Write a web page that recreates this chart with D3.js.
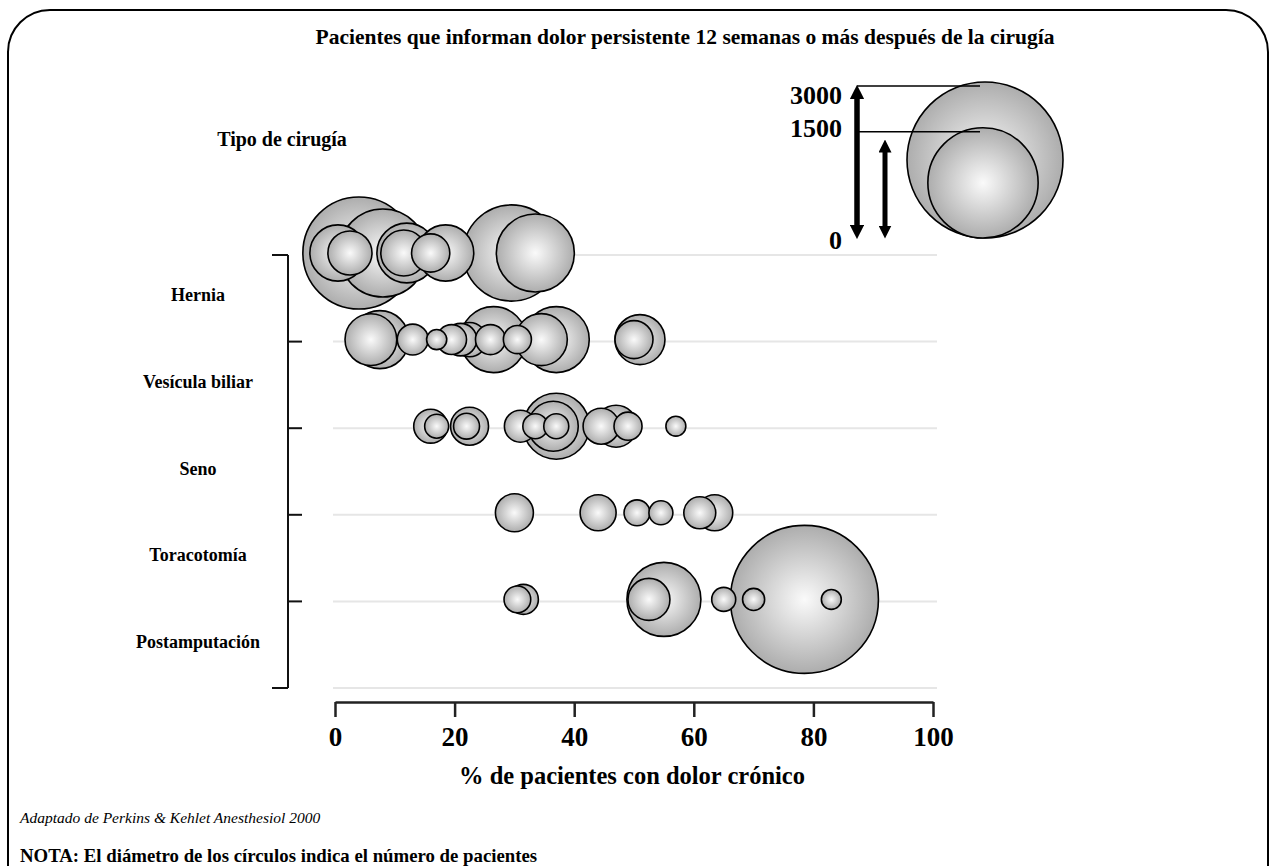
<!DOCTYPE html>
<html>
<head>
<meta charset="utf-8">
<script src="https://cdn.jsdelivr.net/npm/d3@7"></script>
<style>
  body { margin: 0; background: #fff; }
  text { font-family: "Liberation Serif", "Times New Roman", serif; }
</style>
</head>
<body>
<svg id="drawing_region"></svg>
<script>
// categories (rows, top to bottom)
const categories = ["Hernia", "Vesícula biliar", "Seno", "Toracotomía", "Postamputación"];

// each study: % with chronic pain, and number of patients
const hernia_pct = [4, 8, 0.5, 2.5, 12, 11.5, 18.5, 16, 29.5, 33.5];
const hernia_n   = [1550, 955, 390, 240, 440, 260, 390, 180, 1140, 750];

const vesicula_pct = [7.5, 6, 13, 17, 19.5, 21, 22.5, 26.5, 26, 30.5, 37, 34.5, 51, 50];
const vesicula_n   = [415, 330, 118, 50, 110, 130, 145, 537, 111, 97, 537, 333, 308, 178];

const seno_pct = [16, 17, 22.5, 22, 31, 37, 36.5, 33.5, 37, 44.5, 47, 49, 57];
const seno_n   = [142, 71, 178, 83, 126, 537, 308, 77, 77, 160, 217, 97, 49];

const toraco_pct = [30, 44, 50.5, 54.5, 63.5, 61];
const toraco_n   = [178, 160, 83, 71, 160, 126];

const postamp_pct = [31.5, 30.5, 55, 52.5, 65, 70, 78.5, 83];
const postamp_n   = [111, 88, 675, 217, 71, 60, 2700, 49];

const x_ticks = [0, 20, 40, 60, 80, 100];
const legend_values = [3000, 1500];

const data = [];
[[hernia_pct, hernia_n], [vesicula_pct, vesicula_n], [seno_pct, seno_n],
 [toraco_pct, toraco_n], [postamp_pct, postamp_n]].forEach((pair, i) => {
    pair[0].forEach((p, j) => data.push({ row: i, pct: p, n: pair[1][j] }));
});

class BubbleChart {

    constructor( config, data ) {
        this.config = config;
        this.data = data;
        this.init();
    }

    init() {
        let self = this;

        self.svg = d3.select( self.config.parent )
            .attr('width', self.config.width)
            .attr('height', self.config.height);

        // frame with rounded corners
        self.svg.append('rect')
            .attr('x', 8).attr('y', 10)
            .attr('width', 1260).attr('height', 920)
            .attr('rx', 42).attr('ry', 42)
            .attr('fill', 'none')
            .attr('stroke', '#000')
            .attr('stroke-width', 2);

        const defs = self.svg.append('defs');
        const grad = defs.append('radialGradient')
            .attr('id', 'bubble')
            .attr('cx', '50%').attr('cy', '50%').attr('r', '50%');
        grad.append('stop').attr('offset', '0%').attr('stop-color', '#fafafa');
        grad.append('stop').attr('offset', '100%').attr('stop-color', '#adadad');

        defs.append('marker')
            .attr('id', 'arrow')
            .attr('viewBox', '0 0 10 10')
            .attr('refX', 5).attr('refY', 5)
            .attr('markerWidth', 2.6).attr('markerHeight', 2.6)
            .attr('orient', 'auto-start-reverse')
            .append('path')
            .attr('d', 'M0,0 L10,5 L0,10 z')
            .attr('fill', '#000');

        self.xscale = d3.scaleLinear()
            .domain([0, 100])
            .range([335, 933]);

        self.yscale = d3.scaleLinear()
            .domain([0, categories.length])
            .range([255, 688]);

        self.rscale = d3.scaleSqrt()
            .domain([0, 3000])
            .range([0, 78]);

        self.xaxis = d3.axisBottom( self.xscale )
            .tickValues(x_ticks)
            .tickSize(15)
            .tickSizeOuter(0);
    }

    render() {
        let self = this;
        const rows = d3.range(categories.length + 1);

        // Title
        self.svg.append('text')
            .attr('x', 685).attr('y', 44)
            .attr('text-anchor', 'middle')
            .style('font-size', '21.5px').style('font-weight', 'bold')
            .text('Pacientes que informan dolor persistente 12 semanas o más después de la cirugía');

        self.svg.append('text')
            .attr('x', 282).attr('y', 146)
            .attr('text-anchor', 'middle')
            .style('font-size', '20px').style('font-weight', 'bold')
            .text('Tipo de cirugía');

        // grid lines
        self.svg.selectAll('.grid')
            .data(rows)
            .enter()
            .append('line')
            .attr('x1', self.xscale(0) - 2)
            .attr('x2', self.xscale(100) + 4)
            .attr('y1', d => self.yscale(d))
            .attr('y2', d => self.yscale(d))
            .attr('stroke', '#e6e6e6')
            .attr('stroke-width', 2);

        // bracket
        self.svg.append('line')
            .attr('x1', 288).attr('x2', 288)
            .attr('y1', self.yscale(0)).attr('y2', self.yscale(categories.length))
            .attr('stroke', '#111').attr('stroke-width', 2);
        self.svg.selectAll('.btick')
            .data(rows)
            .enter()
            .append('line')
            .attr('x1', d => (d == 0 || d == categories.length) ? 272 : 288)
            .attr('x2', d => (d == 0 || d == categories.length) ? 288 : 302)
            .attr('y1', d => self.yscale(d))
            .attr('y2', d => self.yscale(d))
            .attr('stroke', '#111').attr('stroke-width', 2);

        // row labels
        self.svg.selectAll('.rlabel')
            .data(categories)
            .enter()
            .append('text')
            .attr('x', 198)
            .attr('y', (d, i) => self.yscale(i + 0.5) + 3)
            .attr('text-anchor', 'middle')
            .style('font-size', '18px').style('font-weight', 'bold')
            .text(d => d);

        // bubbles, larger first
        const sorted = self.data.slice().sort((a, b) => b.n - a.n);
        self.svg.selectAll('.bubble')
            .data(sorted)
            .enter()
            .append('circle')
            .attr('cx', d => self.xscale(d.pct))
            .attr('cy', d => self.yscale(d.row) - 2)
            .attr('r', d => self.rscale(d.n))
            .attr('fill', 'url(#bubble)')
            .attr('stroke', '#000')
            .attr('stroke-width', 1.6);

        // x axis
        const ax = self.svg.append('g')
            .attr('transform', 'translate(0, 702)')
            .call( self.xaxis );
        ax.select('.domain').attr('stroke', '#222').attr('stroke-width', 2.5);
        ax.selectAll('.tick line').attr('stroke', '#222').attr('stroke-width', 2.5);
        ax.selectAll('.tick text')
            .attr('y', 44).attr('dy', 0)
            .attr('fill', '#000')
            .style('font-family', '"Liberation Serif", serif')
            .style('font-size', '27px').style('font-weight', 'bold');

        self.svg.append('text')
            .attr('x', 632).attr('y', 784)
            .attr('text-anchor', 'middle')
            .style('font-size', '24.5px').style('font-weight', 'bold')
            .text('% de pacientes con dolor crónico');

        // legend
        const lx = 985, lbottom = 238;
        const big = self.rscale(legend_values[0]);
        const small = self.rscale(legend_values[1]);
        self.svg.append('circle')
            .attr('cx', lx).attr('cy', lbottom - big).attr('r', big)
            .attr('fill', 'url(#bubble)').attr('stroke', '#000').attr('stroke-width', 1.6);
        self.svg.append('circle')
            .attr('cx', lx - 2).attr('cy', lbottom - small).attr('r', small)
            .attr('fill', 'url(#bubble)').attr('stroke', '#000').attr('stroke-width', 1.6);

        [big, small].forEach(r => {
            self.svg.append('line')
                .attr('x1', 857).attr('x2', lx - 5)
                .attr('y1', lbottom - 2 * r + 4).attr('y2', lbottom - 2 * r + 4)
                .attr('stroke', '#000').attr('stroke-width', 1.5);
        });
        self.svg.append('line')
            .attr('x1', 857).attr('x2', 857)
            .attr('y1', lbottom - 2 * big + 10).attr('y2', lbottom - 6)
            .attr('stroke', '#000').attr('stroke-width', 5.5)
            .attr('marker-start', 'url(#arrow)').attr('marker-end', 'url(#arrow)');
        self.svg.append('line')
            .attr('x1', 885).attr('x2', 885)
            .attr('y1', 146).attr('y2', lbottom - 6)
            .attr('stroke', '#000').attr('stroke-width', 5)
            .attr('marker-start', 'url(#arrow)').attr('marker-end', 'url(#arrow)');

        self.svg.selectAll('.llabel')
            .data([[legend_values[0], 104], [legend_values[1], 137], [0, 249]])
            .enter()
            .append('text')
            .attr('x', 842).attr('y', d => d[1])
            .attr('text-anchor', 'end')
            .style('font-size', '26px').style('font-weight', 'bold')
            .text(d => d[0]);

        // notes
        self.svg.append('text')
            .attr('x', 20).attr('y', 823)
            .style('font-size', '15.5px').style('font-style', 'italic')
            .text('Adaptado de Perkins & Kehlet Anesthesiol 2000');
        self.svg.append('text')
            .attr('x', 20).attr('y', 862)
            .style('font-size', '18.8px').style('font-weight', 'bold')
            .text('NOTA: El diámetro de los círculos indica el número de pacientes');
    }
}

const config = {
    parent: '#drawing_region',
    width: 1275,
    height: 866
};

const bubble_chart = new BubbleChart( config, data );
bubble_chart.render();
</script>
</body>
</html>
